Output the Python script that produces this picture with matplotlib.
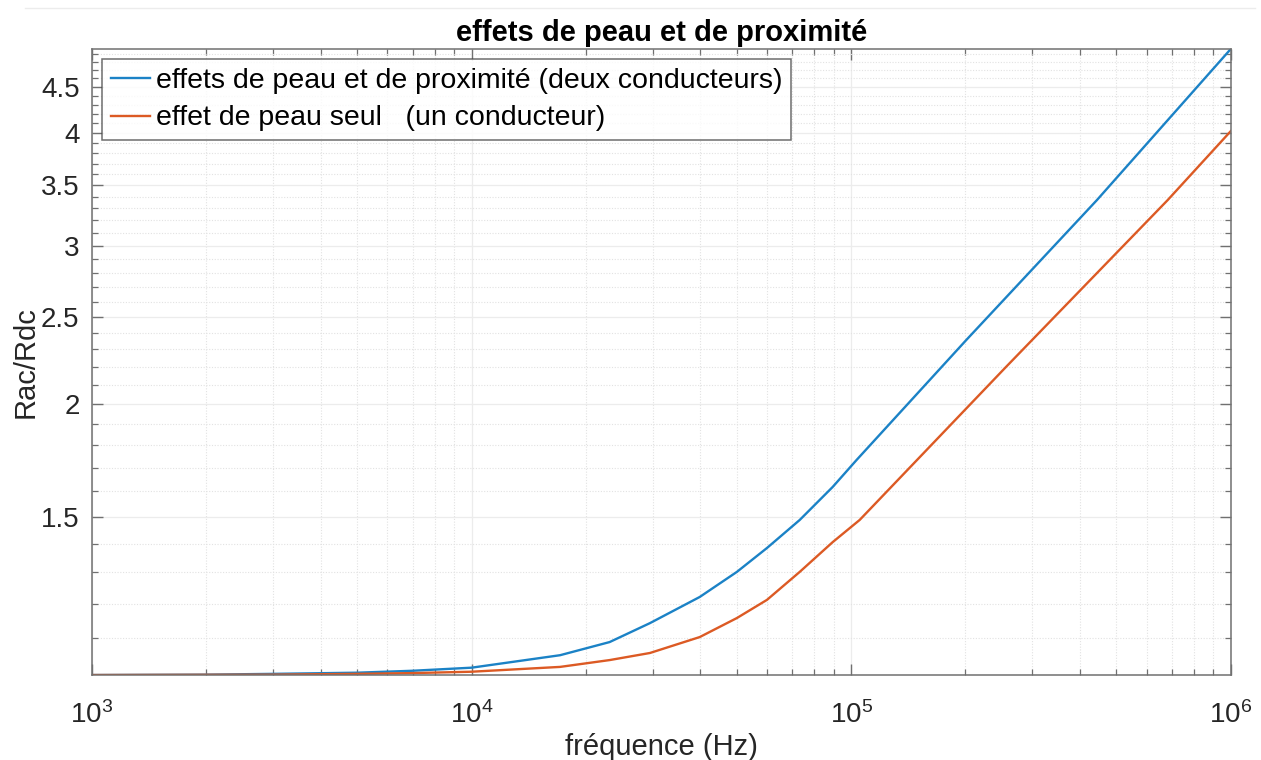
import matplotlib
matplotlib.use("Agg")
import matplotlib.pyplot as plt
from matplotlib.ticker import FixedLocator, NullFormatter, LogLocator

plt.rcParams["font.family"] = ["Liberation Sans", "DejaVu Sans"]
plt.rcParams["mathtext.fontset"] = "custom"
plt.rcParams["mathtext.rm"] = "Liberation Sans"
plt.rcParams["mathtext.it"] = "Liberation Sans"

# valeurs
freq_prox = [1e3, 2e3, 3e3, 5e3, 7e3, 1e4, 1.71e4, 2.31e4, 2.95e4, 3.99e4, 5.0e4,
             6.0e4, 7.32e4, 8.94e4, 1.034e5, 2.01e5, 4.44e5, 1e6]
r_prox = [1.000, 1.001, 1.003, 1.006, 1.011, 1.019, 1.052, 1.088, 1.142, 1.221, 1.302,
          1.384, 1.487, 1.618, 1.734, 2.356, 3.37, 4.96]

freq_peau = [1e3, 3e3, 5e3, 7e3, 1e4, 1.71e4, 2.31e4, 2.95e4, 3.99e4, 5.0e4, 6.0e4,
             7.32e4, 8.94e4, 1.053e5, 2.56e5, 6.82e5, 1e6]
r_peau = [1.000, 1.001, 1.003, 1.005, 1.0085, 1.021, 1.039, 1.058, 1.102, 1.157, 1.212,
          1.302, 1.405, 1.487, 2.20, 3.37, 4.02]

yticks = [1.5, 2, 2.5, 3, 3.5, 4, 4.5]
labels = ["effets de peau et de proximité (deux conducteurs)",
          "effet de peau seul   (un conducteur)"]

BLUE = "#1b82c6"
ORANGE = "#dc5a24"
AXC = "#707070"
TXT = "#262626"

fig = plt.figure(figsize=(12.61, 7.6), dpi=100)
ax = fig.add_axes([0.073, 0.1118, 0.903, 0.8237])

ax.plot(freq_prox, r_prox, color=BLUE, lw=1.7, label=labels[0])
ax.plot(freq_peau, r_peau, color=ORANGE, lw=1.7, label=labels[1])

ax.set_xscale("log")
ax.set_yscale("log")
ax.set_xlim(1e3, 1e6)
ax.set_ylim(min(r_prox + r_peau), max(r_prox + r_peau))

ax.yaxis.set_major_locator(FixedLocator(yticks))
ax.yaxis.set_minor_locator(FixedLocator([v / 10 for v in range(11, 50) if v % 5 != 0]))
ax.yaxis.set_major_formatter(plt.FuncFormatter(lambda v, _: f"{v:g}"))
ax.yaxis.set_minor_formatter(NullFormatter())
ax.xaxis.set_minor_locator(LogLocator(base=10, subs=range(2, 10)))

ax.grid(True, which="major", color="#ececec", lw=0.9)
ax.grid(True, which="minor", color="#e2e2e2", lw=0.8, ls=(0, (1, 1.5)))
ax.set_axisbelow(True)

ax.tick_params(which="both", direction="in", top=True, right=True, colors=AXC,
               labelcolor=TXT, labelsize=20)
ax.tick_params(which="major", length=8, width=1)
ax.tick_params(which="minor", length=4.5, width=0.9)
ax.tick_params(axis="x", pad=19)
ax.tick_params(axis="y", pad=9)
for s in ax.spines.values():
    s.set_color(AXC)
    s.set_linewidth(1.1)

ax.set_title("effets de peau et de proximité", fontsize=21, fontweight="bold",
             color="black", pad=6)
ax.set_ylabel("Rac/Rdc", fontsize=21, color=TXT, labelpad=1)
ax.set_xlabel("fréquence (Hz)", fontsize=21, color=TXT, labelpad=3)

leg = ax.legend(loc="upper left", fontsize=20.5, frameon=True, fancybox=False,
                borderaxespad=0.35, handlelength=1.4, handletextpad=0.2,
                borderpad=0.3, labelspacing=0.42)
leg.get_frame().set_edgecolor("#4a4a4a")
leg.get_frame().set_linewidth(1.1)

# cadre de la capture
fig.add_artist(plt.Line2D([0.02, 0.995], [0.99, 0.99], color="#ececec", lw=1,
                          transform=fig.transFigure))

fig.savefig("out.png", dpi=100, facecolor="white")
